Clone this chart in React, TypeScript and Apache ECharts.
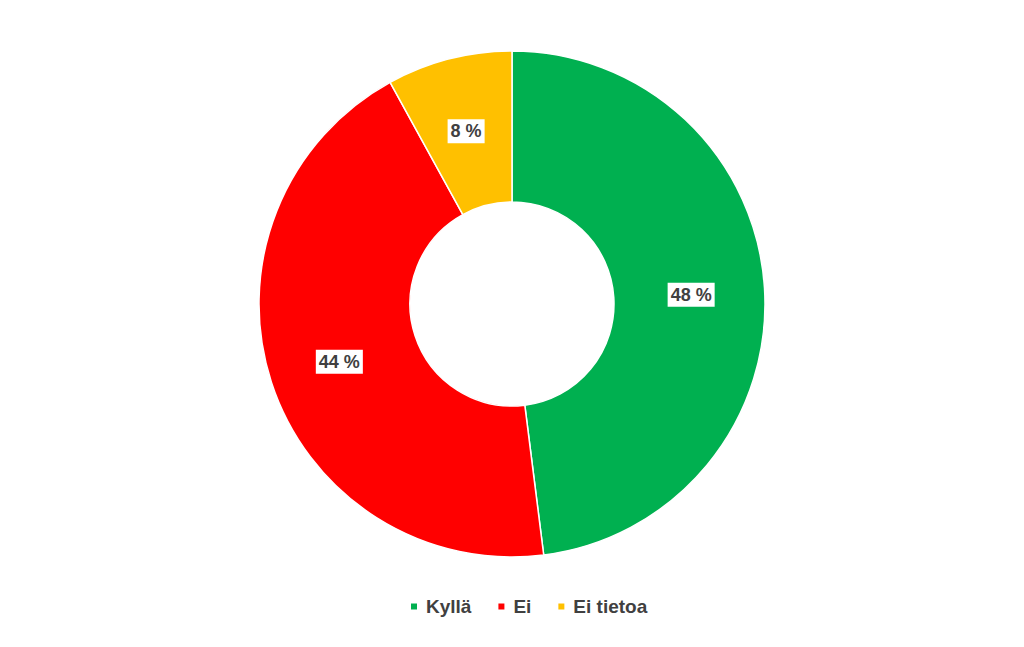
import React, { useEffect, useRef } from "react";
import * as echarts from "echarts";

const categories = ["Kyllä", "Ei", "Ei tietoa"];
const values = [48, 44, 8];
const colors = ["#00B050", "#FF0000", "#FFC000"];

export default function App() {
  const ref = useRef<HTMLDivElement>(null);
  useEffect(() => {
    if (!ref.current) return;
    const chart = echarts.init(ref.current, null, { renderer: "svg" });
    chart.setOption({
      animation: false,
      backgroundColor: "#ffffff",
      textStyle: { fontFamily: "Liberation Sans, Arial, sans-serif" },
      legend: {
        top: 597,
        left: 409,
        padding: 0,
        icon: "rect",
        itemWidth: 8,
        itemHeight: 8,
        itemGap: 25,
        textStyle: {
          fontSize: 19,
          fontWeight: "bold",
          color: "#404040",
          padding: [0, 0, 0, 3],
        },
        data: categories,
      },
      series: [
        {
          type: "pie",
          center: [512, 304],
          radius: [102, 253],
          startAngle: 90,
          clockwise: true,
          itemStyle: { borderColor: "#ffffff", borderWidth: 1.5 },
          label: {
            show: true,
            position: "inside",
            formatter: "{c} %",
            fontSize: 18,
            fontWeight: "bold",
            color: "#404040",
            backgroundColor: "#ffffff",
            padding: [4, 3, 2, 3],
            offset: [-1, 2],
          },
          labelLine: { show: false },
          emphasis: { disabled: true },
          data: categories.map((name, i) => ({
            name,
            value: values[i],
            itemStyle: { color: colors[i] },
          })),
        },
      ],
    });
    return () => chart.dispose();
  }, []);
  return (
    <div
      ref={ref}
      style={{ position: "absolute", left: 0, top: 0, width: 1024, height: 647 }}
    />
  );
}
